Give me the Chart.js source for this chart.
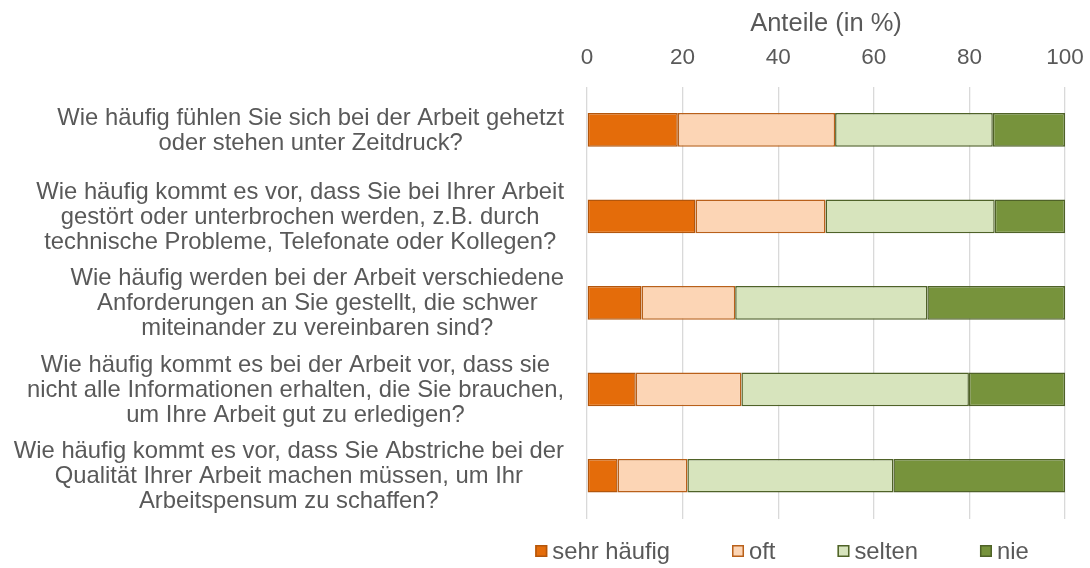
<!DOCTYPE html>
<html>
<head>
<meta charset="utf-8">
<script src="https://cdn.jsdelivr.net/npm/chart.js@4/dist/chart.umd.min.js"></script>
<style>
  html, body { margin: 0; padding: 0; background: #fff; }
  #wrap { width: 1090px; height: 568px; }
</style>
</head>
<body>
<div id="wrap"><canvas id="chart"></canvas></div>
<script>
// Fragen (Kategorien), zeilenweise umbrochen wie im Original
var fragen = [
  ["Wie häufig fühlen Sie sich bei der Arbeit gehetzt", "oder stehen unter Zeitdruck?"],
  ["Wie häufig kommt es vor, dass Sie bei Ihrer Arbeit", "gestört oder unterbrochen werden, z.B. durch", "technische Probleme, Telefonate oder Kollegen?"],
  ["Wie häufig werden bei der Arbeit verschiedene", "Anforderungen an Sie gestellt, die schwer", "miteinander zu vereinbaren sind?"],
  ["Wie häufig kommt es bei der Arbeit vor, dass sie", "nicht alle Informationen erhalten, die Sie brauchen,", "um Ihre Arbeit gut zu erledigen?"],
  ["Wie häufig kommt es vor, dass Sie Abstriche bei der", "Qualität Ihrer Arbeit machen müssen, um Ihr", "Arbeitspensum zu schaffen?"]
];

// Anteile in %
var sehrHaeufig = [19.0, 22.7, 11.4, 10.2, 6.4];
var oft         = [32.9, 27.2, 19.6, 22.1, 14.6];
var selten      = [33.0, 35.4, 40.2, 47.6, 43.1];
var nie         = [15.1, 14.7, 28.8, 20.1, 35.9];

var xTicks = [0, 20, 40, 60, 80, 100];

var textColor = "#595959";
var fontFam = "'Liberation Sans', Arial, sans-serif";

// Fragen links neben den Balken: Block rechtsbündig, Zeilen zentriert
var frageLabels = {
  id: "frageLabels",
  afterDraw: function(chart) {
    var ctx = chart.ctx;
    var yScale = chart.scales.y;
    var rightEdge = 564;
    var lineH = 25;
    ctx.save();
    ctx.font = "23.8px " + fontFam;
    ctx.fillStyle = textColor;
    ctx.textAlign = "center";
    ctx.textBaseline = "middle";
    fragen.forEach(function(lines, i) {
      var yc = yScale.getPixelForValue(i) + 1;
      var w = 0;
      lines.forEach(function(l) { w = Math.max(w, ctx.measureText(l).width); });
      var xc = rightEdge - w / 2;
      var y0 = yc - (lines.length - 1) * lineH / 2;
      lines.forEach(function(l, k) {
        ctx.fillText(l, xc, y0 + k * lineH);
      });
    });
    ctx.restore();
  }
};

// Legende unten
var legende = {
  id: "legende",
  afterDraw: function(chart) {
    var ctx = chart.ctx;
    var box = 12, gapText = 5, gapItem = 62;
    var cx = 782, cy = 551;
    ctx.save();
    ctx.font = "23.8px " + fontFam;
    ctx.textBaseline = "middle";
    ctx.textAlign = "left";
    var ds = chart.data.datasets;
    var widths = ds.map(function(d) { return box + gapText + ctx.measureText(d.label).width; });
    var total = widths.reduce(function(a, b) { return a + b; }, 0) + gapItem * (ds.length - 1);
    var x = cx - total / 2;
    ds.forEach(function(d, i) {
      ctx.fillStyle = d.backgroundColor;
      ctx.fillRect(x, cy - box / 2, box, box);
      ctx.strokeStyle = d.borderColor;
      ctx.lineWidth = 1.5;
      ctx.strokeRect(x + 0.75, cy - box / 2 + 0.75, box - 1.5, box - 1.5);
      ctx.fillStyle = textColor;
      ctx.fillText(d.label, x + box + gapText, cy + 1);
      x += widths[i] + gapItem;
    });
    ctx.restore();
  }
};

var ctx = document.getElementById("chart");
var chart = new Chart(ctx, {
  type: "bar",
  data: {
    labels: fragen.map(function(f) { return f.join(" "); }),
    datasets: [{
      label: "sehr häufig",
      data: sehrHaeufig,
      backgroundColor: "#E46C0A",
      borderColor: "#B3560C"
    }, {
      label: "oft",
      data: oft,
      backgroundColor: "#FCD5B5",
      borderColor: "#B9601A"
    }, {
      label: "selten",
      data: selten,
      backgroundColor: "#D7E4BD",
      borderColor: "#4F6228"
    }, {
      label: "nie",
      data: nie,
      backgroundColor: "#77933C",
      borderColor: "#4F6228"
    }]
  },
  options: {
    indexAxis: "y",
    responsive: true,
    maintainAspectRatio: false,
    animation: false,
    layout: { padding: { left: 587, right: 25, top: 9, bottom: 49 } },
    datasets: {
      bar: {
        barPercentage: 0.39,
        categoryPercentage: 1,
        borderWidth: 1.5,
        borderSkipped: false
      }
    },
    plugins: {
      legend: { display: false },
      tooltip: { enabled: false }
    },
    scales: {
      x: {
        position: "top",
        stacked: true,
        min: 0,
        max: 100,
        afterBuildTicks: function(scale) {
          scale.ticks = xTicks.map(function(v) { return { value: v }; });
        },
        afterFit: function(scale) {
          scale.paddingLeft = 0;
          scale.paddingRight = 0;
        },
        grid: { color: "#D9D9D9", lineWidth: 1.3, drawTicks: false },
        border: { display: false },
        ticks: {
          color: textColor,
          font: { family: fontFam, size: 22.5 },
          padding: 15
        },
        title: {
          display: true,
          text: "Anteile (in %)",
          color: textColor,
          font: { family: fontFam, size: 25.5 },
          padding: { top: 0, bottom: -10 }
        }
      },
      y: {
        stacked: true,
        display: false
      }
    }
  },
  plugins: [frageLabels, legende]
});
</script>
</body>
</html>
